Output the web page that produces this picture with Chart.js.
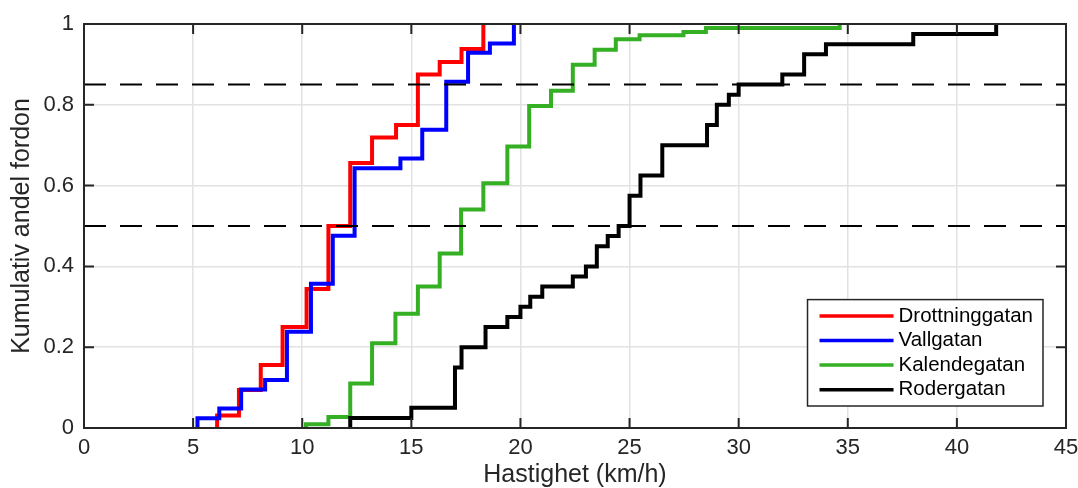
<!DOCTYPE html>
<html>
<head>
<meta charset="utf-8">
<script src="https://cdn.jsdelivr.net/npm/chart.js"></script>
<style>
  html, body { margin: 0; padding: 0; background: #fff; }
</style>
</head>
<body>
<canvas id="myChart" width="1078" height="488"></canvas>

<script>
    // Hastigheter (km/h) där kurvan tar ett steg, och kumulativ andel efter steget
    var drottX = [6.1, 7.1, 8.1, 9.1, 10.2, 11.2, 12.2, 13.2, 14.3, 15.3, 16.3, 17.3, 18.3];
    var drottY = [0.031, 0.094, 0.156, 0.25, 0.344, 0.5, 0.656, 0.719, 0.75, 0.875, 0.906, 0.938, 1.0];

    var vallX = [5.2, 6.2, 7.2, 8.3, 9.3, 10.4, 11.4, 12.4, 14.5, 15.5, 16.6, 17.6, 18.6, 19.7];
    var vallY = [0.024, 0.048, 0.095, 0.119, 0.238, 0.357, 0.476, 0.643, 0.667, 0.738, 0.857, 0.929, 0.952, 1.0];

    var kalenX = [10.17, 11.2, 12.2, 13.2, 14.27, 15.3, 16.3, 17.28, 18.3, 19.4, 20.4, 21.4, 22.4, 23.4, 24.37, 25.46, 27.47, 28.5, 34.63];
    var kalenY = [0.009, 0.027, 0.11, 0.21, 0.283, 0.35, 0.432, 0.541, 0.606, 0.697, 0.797, 0.835, 0.899, 0.936, 0.962, 0.972, 0.98, 0.99, 1.0];

    var roderX = [12.2, 15.0, 17.0, 17.3, 18.4, 19.4, 20.0, 20.45, 21.0, 22.4, 23.0, 23.5, 24.0, 24.5, 25.0, 25.5, 26.5, 28.55, 29.0, 29.55, 30.0, 32.0, 33.0, 34.0, 38.0, 41.8];
    var roderY = [0.025, 0.05, 0.15, 0.2, 0.25, 0.275, 0.3, 0.325, 0.35, 0.375, 0.4, 0.45, 0.475, 0.5, 0.575, 0.625, 0.7, 0.75, 0.8, 0.825, 0.85, 0.875, 0.925, 0.95, 0.975, 1.0];

    var serieNamn = ['Drottninggatan', 'Vallgatan', 'Kalendegatan', 'Rodergatan'];
    var serieFarg = ['#ff0000', '#0000ff', '#35b025', '#000000'];

    var refLinjer = [0.5, 0.85];   // streckade nivåer
    var xTicks = [0, 5, 10, 15, 20, 25, 30, 35, 40, 45];
    var xTickText = ['0', '5', '10', '15', '20', '25', '30', '35', '40', '45'];
    var yTicks = [0, 0.2, 0.4, 0.6, 0.8, 1];
    var yTickText = ['0', '0.2', '0.4', '0.6', '0.8', '1'];

    var FONT = '"Liberation Sans", Arial, Helvetica, sans-serif';
    var TEXT = '#262626';

    function stegPunkter(xs, ys) {
        var pts = [{ x: xs[0], y: 0 }];
        for (var i = 0; i < xs.length; i++) pts.push({ x: xs[i], y: ys[i] });
        return pts;
    }

    var serier = [[drottX, drottY], [vallX, vallY], [kalenX, kalenY], [roderX, roderY]];
    var datasets = serier.map(function (s, i) {
        return {
            label: serieNamn[i],
            data: stegPunkter(s[0], s[1]),
            borderColor: serieFarg[i],
            backgroundColor: serieFarg[i],
            borderWidth: 4,
            pointRadius: 0,
            stepped: 'before',
            fill: false,
            order: 10 - i
        };
    });
    refLinjer.forEach(function (v) {
        datasets.push({
            label: '',
            ref: true,
            data: [{ x: xTicks[0], y: v }, { x: xTicks[xTicks.length - 1], y: v }],
            borderColor: '#000',
            borderWidth: 2,
            borderDash: [22, 14],
            pointRadius: 0,
            fill: false,
            order: 0
        });
    });

    // ram runt plotytan med inåtriktade ticks (som i matlab)
    var ramPlugin = {
        id: 'ram',
        afterDatasetsDraw: function (chart) {
            var ctx = chart.ctx, a = chart.chartArea;
            var xs = chart.scales.x, ys = chart.scales.y;
            var tl = 10;
            ctx.save();
            ctx.strokeStyle = TEXT;
            ctx.lineWidth = 2;
            ctx.beginPath();
            xs.ticks.forEach(function (t) {
                var px = xs.getPixelForValue(t.value);
                ctx.moveTo(px, a.bottom); ctx.lineTo(px, a.bottom - tl);
                ctx.moveTo(px, a.top); ctx.lineTo(px, a.top + tl);
            });
            ys.ticks.forEach(function (t) {
                var py = ys.getPixelForValue(t.value);
                ctx.moveTo(a.left, py); ctx.lineTo(a.left + tl, py);
                ctx.moveTo(a.right, py); ctx.lineTo(a.right - tl, py);
            });
            ctx.stroke();
            ctx.strokeRect(a.left, a.top, a.right - a.left, a.bottom - a.top);
            ctx.restore();
        }
    };

    // legend i nedre högra hörnet, inuti plotytan
    var legendPlugin = {
        id: 'rutLegend',
        afterDraw: function (chart) {
            var ctx = chart.ctx, a = chart.chartArea;
            var items = chart.data.datasets.filter(function (d) { return !d.ref; });
            ctx.save();
            ctx.font = '20.5px ' + FONT;
            var maxW = 0;
            items.forEach(function (d) { maxW = Math.max(maxW, ctx.measureText(d.label).width); });
            var rowH = 24.6, padL = 12, lineL = 74, gap = 5, padR = 10;
            var w = padL + lineL + gap + maxW + padR;
            var h = rowH * items.length + 8;
            var right = a.right - 23, bottom = a.bottom - 22;
            var left = right - w, top = bottom - h;
            ctx.fillStyle = '#fff';
            ctx.fillRect(left, top, w, h);
            ctx.strokeStyle = TEXT;
            ctx.lineWidth = 1.5;
            ctx.strokeRect(left, top, w, h);
            ctx.textBaseline = 'middle';
            ctx.textAlign = 'left';
            items.forEach(function (d, i) {
                var cy = top + 4 + rowH * (i + 0.5);
                ctx.strokeStyle = d.borderColor;
                ctx.lineWidth = 3.5;
                ctx.beginPath();
                ctx.moveTo(left + padL, cy);
                ctx.lineTo(left + padL + lineL, cy);
                ctx.stroke();
                ctx.fillStyle = '#000';
                ctx.fillText(d.label, left + padL + lineL + gap, cy);
            });
            ctx.restore();
        }
    };

    var ctx = document.getElementById('myChart').getContext('2d');
    var myChart = new Chart(ctx, {
        type: 'line',
        data: { datasets: datasets },
        options: {
            responsive: false,
            animation: false,
            devicePixelRatio: 1,
            layout: { padding: { top: 24, right: 0, bottom: 0, left: 0 } },
            plugins: {
                legend: { display: false },
                tooltip: { enabled: false }
            },
            scales: {
                x: {
                    type: 'linear',
                    min: 0,
                    max: 45,
                    afterBuildTicks: function (s) { s.ticks = xTicks.map(function (v) { return { value: v }; }); },
                    afterFit: function (s) { s.height = 60; s.paddingRight = 12; s.paddingLeft = 0; },
                    grid: { color: '#e2e2e2', lineWidth: 1.5, drawTicks: false },
                    border: { display: false },
                    ticks: {
                        color: TEXT, font: { family: FONT, size: 22 }, padding: 7, maxRotation: 0, autoSkip: false,
                        callback: function (v, i) { return xTickText[i]; }
                    },
                    title: {
                        display: true,
                        text: 'Hastighet (km/h)',
                        color: TEXT,
                        font: { family: FONT, size: 25, lineHeight: 1 },
                        padding: 0
                    }
                },
                y: {
                    type: 'linear',
                    min: 0,
                    max: 1,
                    afterBuildTicks: function (s) { s.ticks = yTicks.map(function (v) { return { value: v }; }); },
                    afterFit: function (s) { s.width = 84; },
                    grid: { color: '#e2e2e2', lineWidth: 1.5, drawTicks: false },
                    border: { display: false },
                    ticks: {
                        color: TEXT, font: { family: FONT, size: 22 }, padding: 10, autoSkip: false,
                        callback: function (v, i) { return yTickText[i]; }
                    },
                    title: {
                        display: true,
                        text: 'Kumulativ andel fordon',
                        color: TEXT,
                        font: { family: FONT, size: 25, lineHeight: 1.2 },
                        padding: { top: 7, bottom: 0 }
                    }
                }
            }
        },
        plugins: [ramPlugin, legendPlugin]
    });
</script>
</body>
</html>
